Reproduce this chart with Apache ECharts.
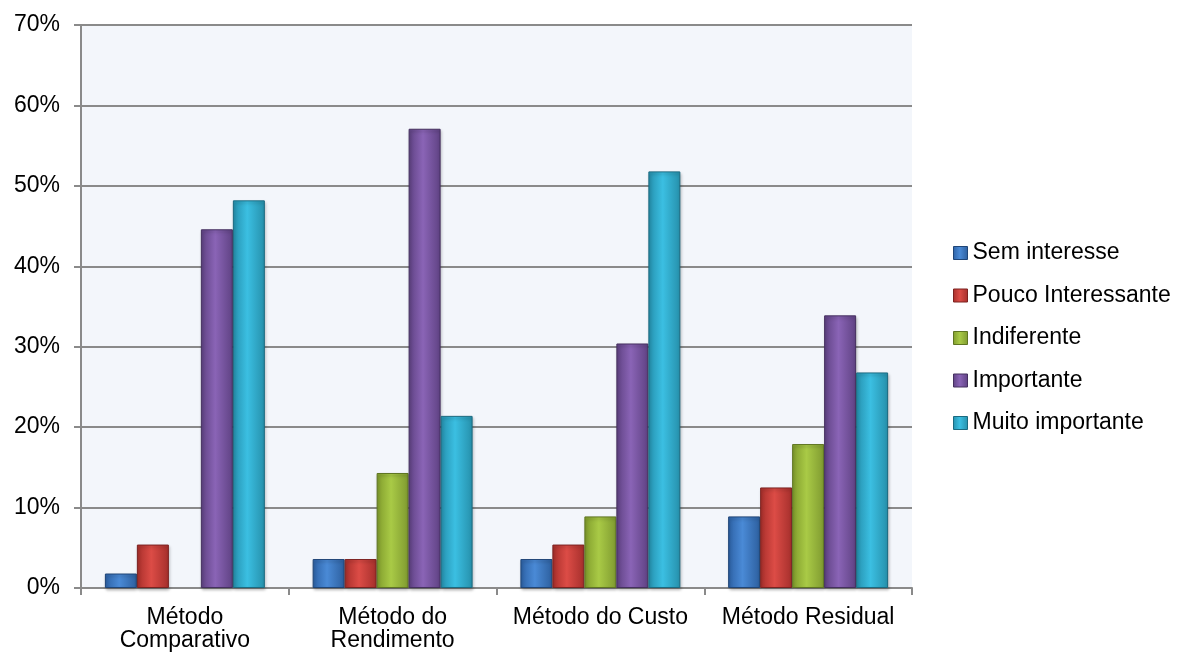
<!DOCTYPE html>
<html>
<head>
<meta charset="utf-8">
<script src="https://cdn.jsdelivr.net/npm/echarts@6/dist/echarts.min.js"></script>
<style>html,body{margin:0;padding:0;background:#fff}#c{width:1181px;height:657px}</style>
</head>
<body>
<div id="c"></div>
<script>
const categories = ['Método\nComparativo', 'Método do\nRendimento', 'Método do Custo', 'Método Residual'];
const seriesNames = ['Sem interesse', 'Pouco Interessante', 'Indiferente', 'Importante', 'Muito importante'];
const semInteresse = [1.8, 3.6, 3.6, 8.9];
const poucoInteressante = [5.4, 3.6, 5.4, 12.5];
const indiferente = [0, 14.3, 8.9, 17.9];
const importante = [44.6, 57.1, 30.4, 33.9];
const muitoImportante = [48.2, 21.4, 51.8, 26.8];
const yTicks = [0, 10, 20, 30, 40, 50, 60, 70];

const FONT = 'Liberation Sans, Arial, sans-serif';
const palette = [
  ['#2d62a6', '#4a8ad6', '#2d5f9e', '#1f4577'],
  ['#a82f2b', '#dc4c46', '#a52f2c', '#7c2220'],
  ['#809c2c', '#a9ca46', '#7f9a30', '#5f7522'],
  ['#5f4283', '#8a64b6', '#5f4283', '#45305f'],
  ['#2590ad', '#3bbfe2', '#2690ab', '#1b6a80']
];
function grad(p) {
  return {
    type: 'linear', x: 0, y: 0, x2: 1, y2: 0,
    colorStops: [
      { offset: 0, color: p[0] },
      { offset: 0.45, color: p[1] },
      { offset: 1, color: p[2] }
    ]
  };
}
const allData = [semInteresse, poucoInteressante, indiferente, importante, muitoImportante];
const series = seriesNames.map((n, i) => ({
  name: n,
  type: 'bar',
  data: allData[i].map(v => v === 0 ? { value: v, itemStyle: { borderWidth: 0, opacity: 0 } } : v),
  barGap: '0%',
  barCategoryGap: '23%',
  itemStyle: {
    color: grad(palette[i]),
    borderColor: palette[i][3],
    borderWidth: 1,
    shadowColor: 'rgba(0,0,0,0.25)',
    shadowBlur: 3,
    shadowOffsetX: 1,
    shadowOffsetY: 2
  }
}));

const chart = echarts.init(document.getElementById('c'), null, { renderer: 'canvas' });
chart.setOption({
  animation: false,
  textStyle: { fontFamily: FONT },
  grid: {
    left: 81, top: 25, right: 269, bottom: 69,
    show: true, backgroundColor: '#f3f6fb', borderWidth: 0
  },
  legend: {
    orient: 'vertical',
    left: 953, top: 241, padding: 0,
    itemWidth: 14, itemHeight: 13, itemGap: 18.5,
    icon: 'rect',
    data: seriesNames.map((n, i) => ({ name: n, itemStyle: { color: grad(palette[i]), borderColor: palette[i][3], borderWidth: 1 } })),
    textStyle: { fontSize: 23, color: '#000', lineHeight: 24, fontFamily: FONT }
  },
  xAxis: {
    type: 'category',
    data: categories,
    axisLine: { lineStyle: { color: '#8a8a8a', width: 2 } },
    axisTick: { show: true, interval: 0, length: 7, lineStyle: { color: '#8a8a8a', width: 2 } },
    axisLabel: { interval: 0, color: '#000', fontSize: 23, lineHeight: 23, margin: 18, fontFamily: FONT }
  },
  yAxis: {
    type: 'value',
    min: yTicks[0], max: yTicks[yTicks.length - 1], interval: 10,
    axisLine: { show: true, lineStyle: { color: '#8a8a8a', width: 2 } },
    axisTick: { show: true, length: 7, lineStyle: { color: '#8a8a8a', width: 2 } },
    splitLine: { show: true, lineStyle: { color: '#8a8a8a', width: 2 } },
    axisLabel: { color: '#000', fontSize: 23, margin: 21, formatter: '{value}%', fontFamily: FONT }
  },
  series: series
});
</script>
</body>
</html>
